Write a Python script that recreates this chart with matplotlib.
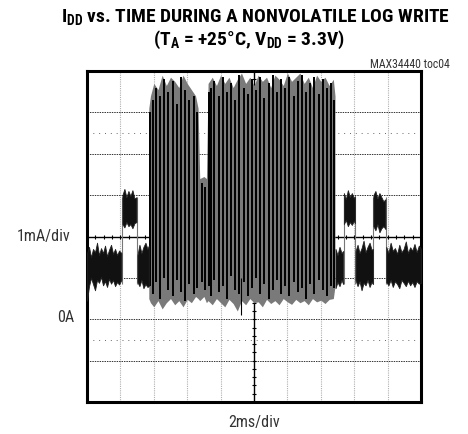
import matplotlib
matplotlib.use("Agg")
import matplotlib.pyplot as plt
from matplotlib import font_manager

# narrow font if one is installed, else DejaVu with condensed stretch
names = {f.name for f in font_manager.fontManager.ttflist}
family = "DejaVu Sans"
for cand in ["Liberation Sans Narrow", "DejaVu Sans Condensed", "Roboto Condensed", "Open Sans Condensed"]:
    if cand in names:
        family = cand
        break
plt.rcParams['font.family'] = [family, 'DejaVu Sans']
plt.rcParams['font.stretch'] = 'condensed'

# trace: time in ms, current in mA (0A at the 2nd line from bottom)
base_a_t = [0.00, 0.12, 0.24, 0.36, 0.48, 0.60, 0.72, 0.84, 0.96, 1.08, 1.20, 1.32, 1.44, 1.56, 1.68, 1.80, 1.92, 2.06]
base_a_hi = [1.60, 1.75, 1.50, 1.70, 1.62, 1.85, 1.55, 1.72, 1.60, 1.78, 1.52, 1.68, 1.80, 1.58, 1.70, 1.55, 1.66, 1.60]
base_a_lo = [0.45, 0.80, 1.00, 0.85, 0.70, 0.95, 0.88, 1.02, 0.82, 0.92, 0.78, 0.98, 0.86, 0.95, 0.80, 0.90, 0.84, 0.95]

high_a_t = [2.12, 2.24, 2.36, 2.48, 2.60, 2.72, 2.84, 2.96]
high_a_hi = [3.00, 3.15, 2.95, 3.10, 2.98, 3.12, 2.92, 2.95]
high_a_lo = [2.30, 2.22, 2.35, 2.25, 2.30, 2.20, 2.32, 2.35]

base_b_t = [3.02, 3.14, 3.26, 3.38, 3.50, 3.62, 3.70]
base_b_hi = [1.55, 1.80, 1.60, 1.75, 1.85, 1.70, 1.78]
base_b_lo = [0.90, 0.80, 0.95, 0.75, 0.85, 0.78, 0.80]

base_c_t = [14.88, 15.00, 15.12, 15.24, 15.34]
base_c_hi = [1.70, 1.55, 1.75, 1.60, 1.65]
base_c_lo = [0.75, 0.90, 0.80, 0.95, 0.85]

high_b_t = [15.38, 15.50, 15.62, 15.74, 15.86, 15.98, 16.04]
high_b_hi = [3.05, 2.90, 3.12, 2.95, 3.05, 2.92, 2.98]
high_b_lo = [2.30, 2.40, 2.25, 2.35, 2.28, 2.38, 2.32]

base_d_t = [16.08, 16.20, 16.32, 16.44, 16.56, 16.68, 16.80, 16.92, 17.04, 17.12]
base_d_hi = [1.65, 1.80, 1.60, 1.72, 1.90, 1.62, 1.75, 1.85, 1.68, 1.70]
base_d_lo = [0.95, 0.80, 0.92, 0.70, 0.88, 0.82, 0.95, 0.78, 0.90, 0.85]

high_c_t = [17.15, 17.27, 17.39, 17.51, 17.63, 17.75, 17.87]
high_c_hi = [3.00, 3.10, 2.92, 3.05, 2.95, 2.85, 2.90]
high_c_lo = [2.25, 2.15, 2.30, 2.10, 2.20, 2.25, 2.18]

base_e_t = [17.92, 18.05, 18.18, 18.31, 18.44, 18.57, 18.70, 18.83, 18.96, 19.09, 19.22, 19.35, 19.48, 19.61, 19.74, 19.87, 20.00]
base_e_hi = [1.75, 1.60, 1.85, 1.65, 1.72, 1.58, 1.80, 1.62, 1.70, 1.88, 1.60, 1.74, 1.66, 1.82, 1.62, 1.78, 1.70]
base_e_lo = [0.90, 0.82, 0.95, 0.78, 0.92, 0.85, 0.75, 0.95, 0.88, 0.80, 0.93, 0.82, 0.90, 0.78, 0.92, 0.86, 0.88]

step_t = [2.09, 2.99, 15.36, 16.06, 17.13, 17.89]

# write burst envelope (grey) and the darker spikes inside it
burst_t = [3.70, 3.80, 4.00, 4.25, 4.50, 4.75, 5.00, 5.25, 5.50, 5.75, 6.00, 6.25, 6.50, 6.65, 6.75,
           7.00, 7.15, 7.25, 7.50, 7.75, 8.00, 8.25, 8.50, 8.75, 9.00, 9.25, 9.50, 9.75, 10.00,
           10.25, 10.50, 10.75, 11.00, 11.25, 11.50, 11.75, 12.00, 12.25, 12.50, 12.75, 13.00,
           13.25, 13.50, 13.75, 14.00, 14.25, 14.50, 14.75, 14.85]
burst_hi = [5.10, 5.40, 5.70, 5.55, 5.90, 5.65, 5.85, 5.75, 5.60, 5.90, 5.70, 5.55, 5.40, 5.10, 3.40,
            3.45, 3.40, 5.70, 5.85, 5.65, 5.90, 5.70, 5.85, 5.60, 5.80, 5.95, 5.70, 5.85, 5.65,
            5.90, 5.75, 5.85, 5.60, 5.90, 5.80, 5.65, 5.95, 5.75, 5.85, 5.95, 5.70, 5.85, 5.60,
            5.90, 5.75, 5.85, 5.65, 5.80, 5.40]
burst_lo = [0.50, 0.40, 0.30, 0.45, 0.25, 0.40, 0.50, 0.35, 0.45, 0.30, 0.48, 0.40, 0.55, 0.50, 0.45,
            0.55, 0.40, 0.45, 0.35, 0.50, 0.40, 0.30, 0.48, 0.38, 0.20, 0.45, 0.35, 0.50, 0.40,
            0.42, 0.30, 0.48, 0.38, 0.45, 0.35, 0.50, 0.42, 0.36, 0.48, 0.40, 0.45, 0.35, 0.50,
            0.42, 0.46, 0.38, 0.48, 0.50, 0.80]

spike_t = [3.78, 3.95, 4.15, 4.40, 4.62, 4.88, 5.12, 5.38, 5.62, 5.88, 6.12, 6.38, 6.58, 6.90, 7.08,
           7.30, 7.42, 7.62, 7.88, 8.12, 8.38, 8.62, 8.88, 9.12, 9.38, 9.62, 9.88, 10.12, 10.38, 10.62,
           10.88, 11.12, 11.38, 11.62, 11.88, 12.12, 12.38, 12.62, 12.88, 13.12, 13.38, 13.62,
           13.88, 14.12, 14.38, 14.62, 14.80]
spike_hi = [5.00, 5.30, 5.60, 5.40, 5.80, 5.50, 5.75, 5.20, 5.85, 5.55, 5.30, 5.40, 5.00, 3.30, 3.20,
            5.50, 5.60, 5.75, 5.40, 5.85, 5.50, 5.70, 5.30, 5.90, 5.60, 5.45, 5.80, 5.55, 5.85, 5.35,
            5.70, 5.90, 5.50, 5.80, 5.60, 5.85, 5.40, 5.75, 5.90, 5.50, 5.70, 5.85, 5.45, 5.80,
            5.60, 5.70, 5.30]
spike_lo = [0.80, 0.60, 0.90, 0.50, 1.00, 0.70, 0.55, 0.95, 0.65, 0.45, 0.85, 0.60, 0.75, 0.90, 0.70,
            0.80, 0.55, 0.95, 0.65, 0.80, 0.50, 1.05, 0.70, 0.60, 0.90, 0.55, 0.75, 1.00, 0.60, 0.85,
            0.50, 0.70, 0.95, 0.60, 0.80, 0.55, 0.90, 0.65, 0.75, 0.50, 0.85, 0.60, 0.95, 0.70,
            0.55, 0.80, 0.75]

low_spike_t = [9.20]
low_spike_lo = [0.10]

fig = plt.figure(figsize=(4.68, 4.34), dpi=100)
ax = fig.add_axes([87 / 468, 32 / 434, 334 / 468, 331 / 434])
ax.set_xlim(0, 20)
ax.set_ylim(-2, 6)

# graticule
for x in range(2, 20, 2):
    if x != 10:
        ax.axvline(x, color="#b0b0b0", lw=0.8, ls=(0, (1, 1)), zorder=1)
for y in range(-1, 6):
    if y != 2:
        ax.axhline(y, color="#333333", lw=0.7, ls=(0, (1.5, 1)), zorder=1)
for y in [4.5, -0.5]:
    ax.axhline(y, color="#666666", lw=0.7, ls=(0, (1, 5)), zorder=1)
ax.axhline(2, color="black", lw=1.0, zorder=1)
ax.axvline(10, color="black", lw=1.0, zorder=1)
ax.plot([t * 0.5 for t in range(1, 40)], [2] * 39, ls="none", marker="|", ms=3, mew=0.8, color="black", zorder=1)
ax.plot([10] * 39, [-2 + 0.2 * k for k in range(1, 40)], ls="none", marker="_", ms=3, mew=0.8, color="black", zorder=1)

# trace
ax.vlines(step_t, 0.85, 2.95, color="#777777", lw=0.8, zorder=2)
ax.fill_between(burst_t, burst_lo, burst_hi, color="#7a7a7a", lw=0, zorder=2)
ax.vlines(spike_t, spike_lo, spike_hi, color="black", lw=1.4, zorder=3)
ax.vlines(low_spike_t, low_spike_lo, [1.0], color="black", lw=0.8, zorder=3)
segments = [
    (base_a_t, base_a_lo, base_a_hi), (high_a_t, high_a_lo, high_a_hi),
    (base_b_t, base_b_lo, base_b_hi), (base_c_t, base_c_lo, base_c_hi),
    (high_b_t, high_b_lo, high_b_hi), (base_d_t, base_d_lo, base_d_hi),
    (high_c_t, high_c_lo, high_c_hi), (base_e_t, base_e_lo, base_e_hi),
]
for t, lo, hi in segments:
    ax.fill_between(t, lo, hi, color="#111111", lw=0.6, edgecolor="#222222", zorder=3)

ax.set_xticks([])
ax.set_yticks([])
for s in ax.spines.values():
    s.set_linewidth(2.2)

fig.text(255 / 468, 1 - 18 / 434, r"I$_\mathregular{DD}$ vs. TIME DURING A NONVOLATILE LOG WRITE",
         ha="center", va="center", fontsize=14, fontweight="bold")
fig.text(249 / 468, 1 - 40 / 434, r"(T$_\mathregular{A}$ = +25°C, V$_\mathregular{DD}$ = 3.3V)",
         ha="center", va="center", fontsize=14, fontweight="bold")
fig.text(450 / 468, 1 - 64 / 434, "MAX34440 toc04", ha="right", va="center", fontsize=8.5, color="#333333")
fig.text(70 / 468, 1 - 237 / 434, "1mA/div", ha="right", va="center", fontsize=11.5, color="#333333")
fig.text(74 / 468, 1 - 318 / 434, "0A", ha="right", va="center", fontsize=11.5, color="#333333")
fig.text(254 / 468, 1 - 423 / 434, "2ms/div", ha="center", va="center", fontsize=11.5, color="#333333")

fig.savefig("out.png", dpi=100)
